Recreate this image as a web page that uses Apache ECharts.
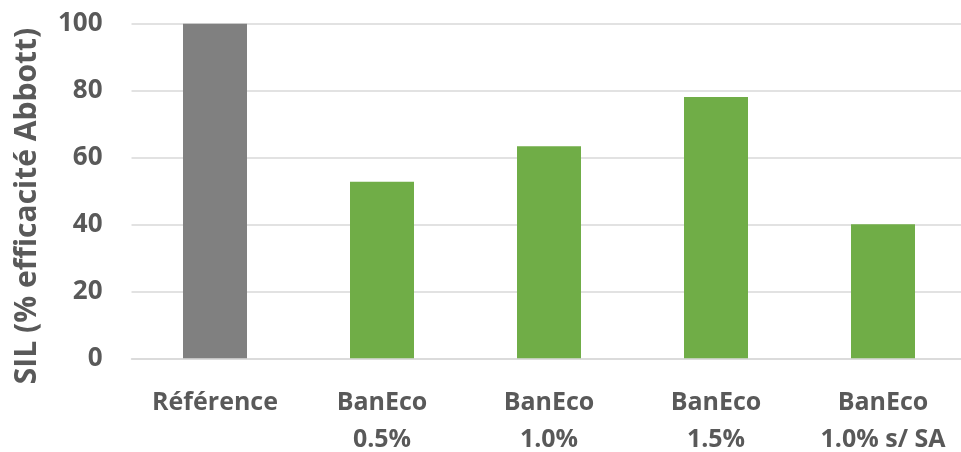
<!DOCTYPE html>
<html><head><meta charset="utf-8">
<script src="https://cdn.jsdelivr.net/npm/echarts@6/dist/echarts.min.js"></script>
<style>html,body{margin:0;padding:0;background:#fff}#c{width:961px;height:452px}</style>
</head><body><div id="c"></div>
<script>
const categories = ['Référence', 'BanEco\n0.5%', 'BanEco\n1.0%', 'BanEco\n1.5%', 'BanEco\n1.0% s/ SA'];
const values = [100, 52.8, 63.4, 78.1, 40.1];
const barColors = ['#808080', '#70AD47', '#70AD47', '#70AD47', '#70AD47'];
const yTicks = [0, 20, 40, 60, 80, 100];
const yTitle = 'SIL (% efficacité Abbott)';
const font = '"Open Sans", "Noto Sans", sans-serif';
const chart = echarts.init(document.getElementById('c'), null, {renderer: 'canvas'});
chart.setOption({
  animation: false,
  grid: {left: 131.5, right: -5.5, top: 23.7, bottom: 93.7, containLabel: false, outerBoundsMode: 'none'},
  xAxis: {
    type: 'category', data: categories,
    axisLine: {show: true, lineStyle: {color: '#d9d9d9', width: 1.5}},
    axisTick: {show: false},
    axisLabel: {color: '#595959', fontFamily: font, fontWeight: 'bold', fontSize: 25, lineHeight: 37, margin: 26}
  },
  yAxis: {
    type: 'value', min: yTicks[0], max: yTicks[yTicks.length - 1], interval: 20,
    name: yTitle, nameLocation: 'middle', nameGap: 89,
    nameTextStyle: {color: '#595959', fontFamily: font, fontWeight: 'bold', fontSize: 30, padding: [0, 30, 0, 0]},
    axisLine: {show: false}, axisTick: {show: false},
    axisLabel: {color: '#595959', fontFamily: font, fontWeight: 'bold', fontSize: 26, margin: 29},
    splitLine: {lineStyle: {color: '#d9d9d9', width: 1.5}}
  },
  series: [{
    type: 'bar', barWidth: 64,
    data: values.map((v, i) => ({value: v, itemStyle: {color: barColors[i]}}))
  }]
});
</script></body></html>
